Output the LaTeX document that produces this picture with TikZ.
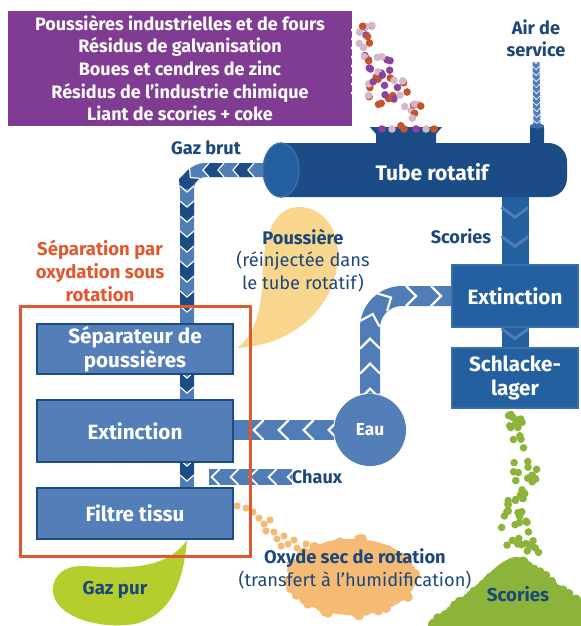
\documentclass[tikz,border=0pt]{standalone}
\usepackage{fontspec}
\setmainfont{Fira Sans}
\usetikzlibrary{decorations.markings,fit}

\definecolor{navy}{RGB}{28,76,134}
\definecolor{boxblue}{RGB}{84,126,184}
\definecolor{rightblue}{RGB}{36,96,160}
\definecolor{pipeblue}{RGB}{80,124,184}
\definecolor{capblue}{RGB}{58,110,172}
\definecolor{labelblue}{RGB}{27,72,122}
\definecolor{feedpurple}{RGB}{128,60,146}
\definecolor{grain0}{RGB}{140,66,160}
\definecolor{grain1}{RGB}{196,84,42}
\definecolor{grain2}{RGB}{214,182,202}
\definecolor{framered}{RGB}{224,88,46}
\definecolor{dustyellow}{RGB}{249,214,142}
\definecolor{oxorange}{RGB}{245,186,116}
\definecolor{slaggreen}{RGB}{141,180,58}
\definecolor{gasgreen}{RGB}{182,205,46}

\pgfdeclarelayer{back}
\pgfdeclarelayer{pipes}
\pgfsetlayers{back,pipes,main}

\begin{document}
\begin{tikzpicture}[x=0.75pt, y=-0.75pt,
    lbl/.style={text=labelblue, font=\bfseries\fontsize{13.6}{16.5}\selectfont, align=center, inner sep=0pt},
    boxL/.style={fill=boxblue, draw=navy, line width=1.5pt, text=white, font=\bfseries\fontsize{15.5}{18.5}\selectfont, align=center, minimum width=147pt, inner sep=0pt},
    boxR/.style={fill=rightblue, draw=capblue, line width=1pt, text=white, font=\bfseries\fontsize{15.5}{17.5}\selectfont, align=center, minimum width=94.5pt, inner sep=0pt},
    gazpipe/.style={draw=pipeblue, line width=10.5pt, rounded corners=14pt,
      postaction={decorate, decoration={markings, mark=between positions 0 and 1 step 22.5pt with {\fill[navy, sharp corners] (-3,7) -- (12,7) -- (18,0) -- (12,-7) -- (-3,-7) -- (3,0) -- cycle;}}},
      postaction={decorate, decoration={markings, mark=between positions 0 and 1 step 11.25pt with {\draw[white, line width=0.9pt, sharp corners] (-3,7) -- (3,0) -- (-3,-7);}}}},
    eaupipe/.style={draw=pipeblue, line width=15pt,
      postaction={decorate, decoration={markings, mark=between positions 0 and 1 step 18.75pt with {\draw[white, line width=1.6pt, sharp corners] (-5,10) -- (5,0) -- (-5,-10);}}}},
    chauxpipe/.style={draw=pipeblue, line width=12pt,
      postaction={decorate, decoration={markings, mark=between positions 0 and 1 step 14.25pt with {\draw[white, line width=1.4pt, sharp corners] (-4,8) -- (4,0) -- (-4,-8);}}}},
    airpipe/.style={draw=pipeblue, line width=5.25pt,
      postaction={decorate, decoration={markings, mark=between positions 0 and 1 step 4.5pt with {\draw[white, line width=0.5pt, sharp corners] (-2,3.5) -- (1.5,0) -- (-2,-3.5);}}}},
    slagpipe/.style={draw=rightblue, line width=20.25pt,
      postaction={decorate, decoration={markings, mark=between positions 0.3 and 1 step 21.75pt with {\draw[pipeblue, line width=2.2pt, sharp corners] (-5,13.5) -- (5,0) -- (-5,-13.5);}}}},
  ]
\useasboundingbox (0,0) rectangle (581,626);

% --- feed materials
\node[fill=feedpurple, minimum width=258pt, minimum height=86.25pt, inner sep=0pt,
      text=white, font=\bfseries\fontsize{13.5}{17}\selectfont, align=center] (feed) at (180,68)
  {Poussières industrielles et de fours\\Résidus de galvanisation\\Boues et cendres de zinc\\Résidus de l’industrie chimique\\Liant de scories + coke};
\foreach \y in {30,39,...,93}
  \fill[white] (353,\y) circle [radius=2];

% --- kiln
\coordinate (tubeL) at (281,170);
\coordinate (tubeB) at (515,190);
\coordinate (airin) at (537,126);
\fill[navy] (281,143) [rounded corners=14pt] -- (567,143) -- (567,197) [sharp corners] -- (281,197) -- cycle;
\filldraw[fill=rightblue, draw=capblue, line width=1pt] (tubeL) ellipse [x radius=18, y radius=27];
\fill[navy] (370,127) -- (442,127) -- (436,134) -- (436,143) -- (376,143) -- (376,134) -- cycle;
\fill[navy, rounded corners=2pt] (530,125) rectangle (544,145);
\fill[capblue] (airin) ellipse [x radius=7, y radius=2.5];
\node[text=white, font=\bfseries\fontsize{15.8}{18}\selectfont] (tube) at (432,172) {Tube rotatif};

% falling feed grains
\pgfmathsetseed{21}
\foreach \i in {1,...,56}{
  \pgfmathsetmacro\t{rnd}
  \pgfmathsetmacro\dy{25+101*\t}
  \pgfmathsetmacro\dx{357+8*\t+rnd*(16+52*\t)}
  \pgfmathtruncatemacro\c{mod(\i,3)}
  \fill[grain\c] (\dx,\dy) circle [radius=3.8];
}
\foreach \x/\c in {382/0,392/2,404/1,416/0,426/2,434/1}
  \fill[grain\c] (\x,129) circle [radius=3.8];

% --- right column
\node[boxR, minimum height=46.5pt] (ext2) at (515,296) {Extinction};
\node[boxR, minimum height=45pt] (schl) at (515,378) {Schlacke-\\lager};

% --- left column
\node[boxL, minimum height=37.5pt] (sep) at (135,349) {Séparateur de\\poussières};
\node[boxL, minimum height=46.5pt] (ext1) at (135,431) {Extinction};
\node[boxL, minimum height=38.25pt] (filt) at (135,513.5) {Filtre tissu};
\node[draw=framered, line width=2.25pt, fit=(sep)(ext1)(filt), inner xsep=12pt, inner ysep=12.5pt] (group) {};

\node[circle, fill=boxblue, minimum size=54pt, inner sep=0pt, text=white,
      font=\bfseries\fontsize{13}{15}\selectfont] (eau) at (370,430) {Eau};

% --- labels
\node[lbl] (air) at (536,38) {Air de\\service};
\node[lbl] (gazbrut) at (206,148) {Gaz brut};
\node[lbl] (scories1) at (461,236) {Scories};
\node[lbl, text=framered, font=\bfseries\fontsize{13.9}{17.25}\selectfont] (septitle) at (100,271) {Séparation par\\oxydation sous\\rotation};
\node[lbl, font=\fontsize{13.7}{16.8}\selectfont] (dust) at (303,260.5) {\textbf{Poussière}\\(réinjectée dans\\le tube rotatif)};
\node[lbl] (chaux) at (317,477) {Chaux};
\node[lbl, font=\fontsize{13.7}{17.25}\selectfont] (oxide) at (355,568.5) {\textbf{Oxyde sec de rotation}\\(transfert à l’humidification)};
\node[lbl, font=\bfseries\fontsize{14}{16}\selectfont] (gazpur) at (115,590) {Gaz pur};
\node[lbl, font=\bfseries\fontsize{14}{16}\selectfont] (scories2) at (518,594) {Scories};

\coordinate (gz) at (187,170);
\coordinate (chauxE) at (209,477);

% --- pipes
\begin{pgfonlayer}{pipes}
  \draw[airpipe] ([yshift=-4pt]air.south) -- (airin);
  \draw[gazpipe] (tubeL) -- (gz) -- (gz |- sep.north);
  \draw[gazpipe] (gz |- sep.south) -- (gz |- ext1.north);
  \draw[gazpipe] (gz |- ext1.south) -- (gz |- filt.north);
  \draw[slagpipe] (tubeB) -- (ext2.north);
  \draw[slagpipe] (ext2.south) -- (schl.north);
  \draw[eaupipe] (eau.west) -- (eau.west -| ext1.east);
  \draw[eaupipe, rounded corners=24pt] (eau.north) -- (eau.north |- ext2.west) -- (ext2.west);
  \draw[chauxpipe] (chaux.west) -- (chauxE);
\end{pgfonlayer}

% --- dust, gas and residue heaps
\begin{pgfonlayer}{back}
  \fill[dustyellow] (237,348) .. controls (255,335) and (262,310) .. (263,270)
    .. controls (264,225) and (280,207) .. (299,207)
    .. controls (320,207) and (338,225) .. (338,255)
    .. controls (338,300) and (300,345) .. (237,348) -- cycle;
  \fill[gasgreen] (187,540) .. controls (183,585) and (170,615) .. (135,624)
    .. controls (95,630) and (55,615) .. (53,592)
    .. controls (52,575) and (65,565) .. (85,566)
    .. controls (120,568) and (165,572) .. (187,540) -- cycle;
  % dry oxide
  \foreach \x/\y in {237/506,246/508,253/512,259/518,264/524,270/520,266/531,274/532,277/539,284/536,288/544,294/540,281/546,297/548,306/544}
    \fill[oxorange] (\x,\y) circle [radius=3.6];
  \fill[oxorange] (352,577) ellipse [x radius=64, y radius=38];
  \pgfmathsetseed{5}
  \foreach \i in {1,...,70}{
    \pgfmathsetmacro\a{rnd*360}
    \pgfmathsetmacro\r{0.8+0.22*rnd}
    \fill[oxorange] ({352+64*\r*cos(\a)},{577+38*\r*sin(\a)}) circle [radius=5];
  }
  % slag falling on the heap
  \pgfmathsetseed{3}
  \foreach \i in {1,...,62}{
    \pgfmathsetmacro\t{rnd}
    \pgfmathsetmacro\dy{413+144*\t}
    \pgfmathsetmacro\dx{519+6*sin(\dy*4)+(rnd-0.5)*(18+14*\t)}
    \fill[slaggreen] (\dx,\dy) circle [radius=3.8];
  }
  \fill[slaggreen] plot[smooth] coordinates {(424,630) (440,614) (462,598) (482,580) (500,564) (515,557) (530,562) (548,582) (566,597) (585,606)} -- (585,630) -- cycle;
  \pgfmathsetseed{9}
  \foreach \i in {1,...,40}{
    \pgfmathsetmacro\t{rnd}
    \fill[slaggreen] ({428+86*\t+4*rnd},{624-66*\t+4*rnd}) circle [radius=4.5];
    \fill[slaggreen] ({520+62*\t+4*rnd},{559+46*\t+4*rnd}) circle [radius=4.5];
  }
\end{pgfonlayer}
\end{tikzpicture}
\end{document}
